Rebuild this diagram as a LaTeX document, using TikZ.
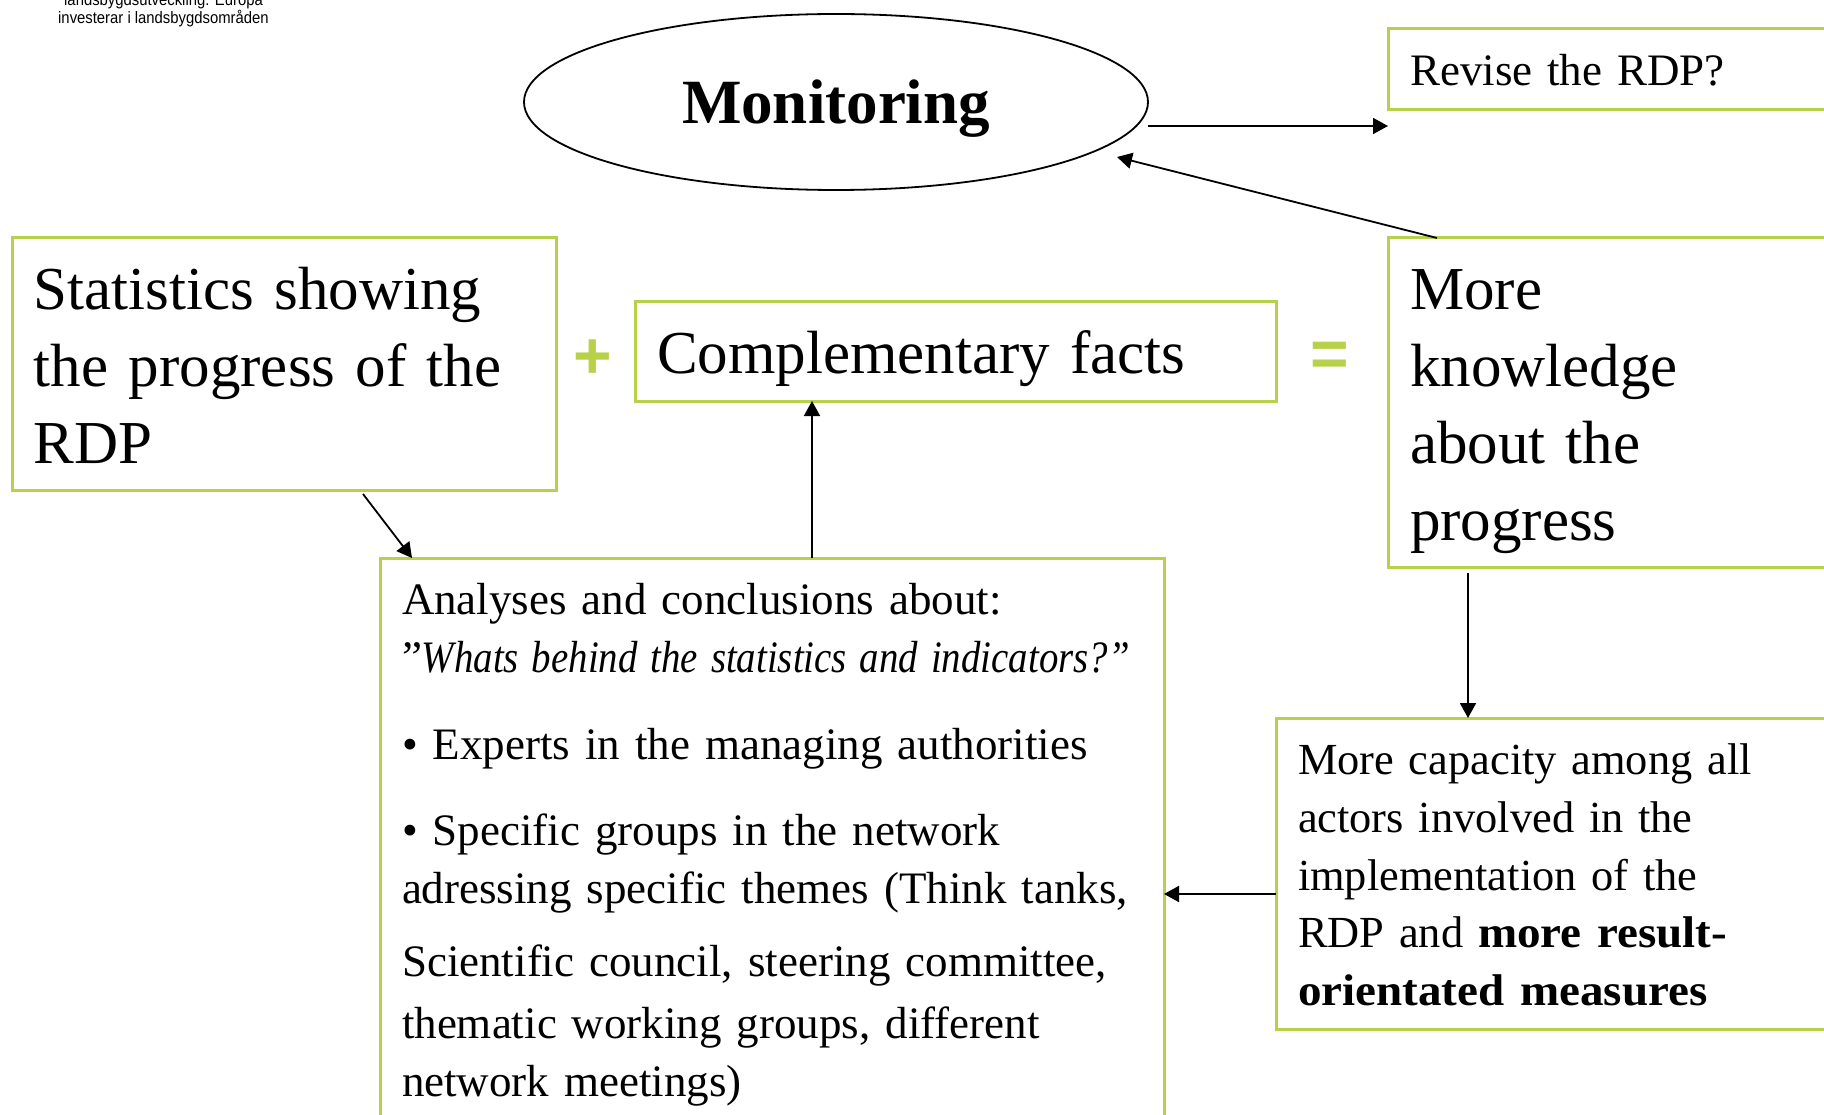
\documentclass[tikz,border=0pt]{standalone}
\usepackage{fontspec}
\setmainfont{Liberation Serif}
\newfontfamily\logofont[FakeStretch=0.9]{Liberation Sans}
\usetikzlibrary{arrows.meta,shapes.geometric}
\definecolor{boxgreen}{HTML}{B7D24A}
\newcommand{\fsz}[2]{\fontsize{#1pt}{#2pt}\selectfont}
\newcommand{\wideb}[1]{\scalebox{1.06}[1]{\textbf{#1}}}
\newcommand{\dnblock}[3]{\raisebox{-#1}[\height][\depth]{\parbox[c]{#2}{\raggedright #3}}}
\tikzset{
  x=1pt,y=-1pt,
  greenbox/.style={draw=boxgreen,line width=3pt,anchor=north west,inner sep=0pt,outer sep=0pt,align=left},
  conn/.style={draw=black,line width=1.8pt,-{Triangle[length=15pt,width=16pt]}},
  sign/.style={text=boxgreen,font=\fontspec{Liberation Sans}\bfseries\fsz{66}{70},inner sep=0pt}
}
\begin{document}
\begin{tikzpicture}
\fill[white] (0,0) rectangle (1824,1115);
\useasboundingbox (0,0) rectangle (1824,1115);
\clip (0,0) rectangle (1824,1115);
\node[anchor=north west,inner sep=0pt,align=left,font=\logofont\fsz{16.5}{18.5}] (logo) at (58,-7) {\hspace*{6pt}landsbygdsutveckling: Europa\\investerar i landsbygdsområden};
\node[draw=black,line width=1.8pt,ellipse,minimum width=624pt,minimum height=176pt,inner sep=0pt,outer sep=0pt,font=\bfseries\fsz{63}{68}] (ell) at (836,102) {\raisebox{-7pt}[\height][\depth]{Monitoring}};
\node[greenbox,minimum width=500pt,minimum height=81pt,text width=456pt,font=\fsz{45}{50}] (revise) at (1388,29) {\dnblock{1pt}{456pt}{Revise the RDP?}};
\node[greenbox,minimum width=544pt,minimum height=252pt,text width=500pt,font=\fsz{61}{77}] (stats) at (12,238) {\dnblock{1pt}{500pt}{Statistics showing\\the progress of the\\RDP}};
\node[greenbox,minimum width=641pt,minimum height=99pt,text width=597pt,font=\fsz{61}{70}] (comp) at (635,302) {\dnblock{7pt}{597pt}{Complementary facts}};
\node[greenbox,minimum width=500pt,minimum height=329pt,text width=456pt,font=\fsz{61}{77}] (know) at (1388,238) {\dnblock{9pt}{456pt}{More\\knowledge\\about the\\progress}};
\node[greenbox,minimum width=784pt,minimum height=573pt,text width=740pt,font=\fsz{45}{58}] (ana) at (380,558) {Analyses and conclusions about:\\
”\scalebox{0.863}[1]{\textit{Whats behind the statistics and indicators?”}}\\[29pt]
• Experts in the managing authorities\\[28pt]
• Specific groups in the network\\
adressing specific themes (Think tanks,\\[15pt]
Scientific council, steering committee,\\[4pt]
thematic working groups, different\\
network meetings)};
\node[greenbox,minimum width=600pt,minimum height=311pt,text width=556pt,font=\fsz{44.4}{57.8}] (cap) at (1276,718) {\dnblock{1.5pt}{556pt}{More capacity among all\\actors involved in the\\implementation of the\\RDP and \wideb{more result-}\\\wideb{orientated measures}}};
\node[sign] (plus) at (593,359) {+};
\node[sign] (eq) at (1330,359) {=};
\coordinate (a1) at (1148,126);
\coordinate (b1) at (1388,126);
\coordinate (a2) at (1437,238);
\coordinate (b2) at (1117,157);
\coordinate (a3) at (363,494);
\coordinate (b3) at (412,558);
\coordinate (a4) at (812,558);
\coordinate (b4) at (812,401);
\coordinate (a5) at (1468,573);
\coordinate (b5) at (1468,718);
\coordinate (a6) at (1276,894);
\coordinate (b6) at (1164,894);
\draw[conn] (a1) -- (b1);
\draw[conn] (a2) -- (b2);
\draw[conn] (a3) -- (b3);
\draw[conn] (a4) -- (b4);
\draw[conn] (a5) -- (b5);
\draw[conn] (a6) -- (b6);
\end{tikzpicture}
\end{document}
